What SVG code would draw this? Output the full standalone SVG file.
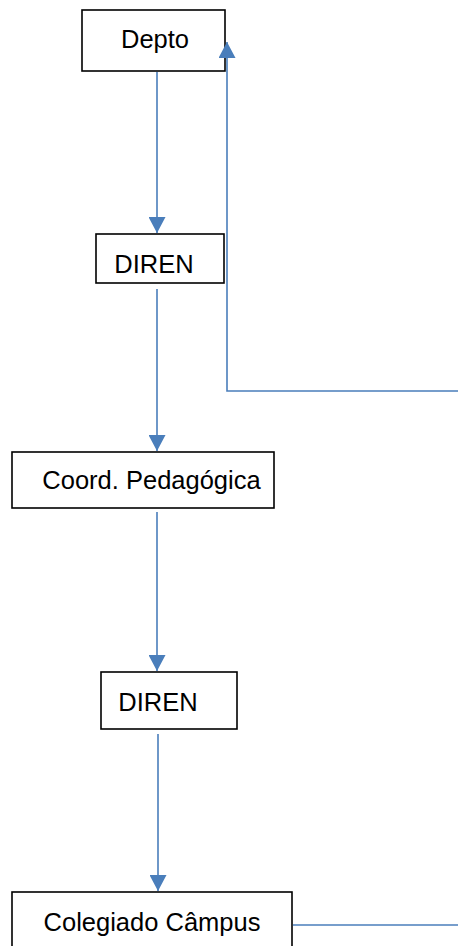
<svg xmlns="http://www.w3.org/2000/svg" width="458" height="946" viewBox="0 0 458 946">
<style>
.box{fill:#fff;stroke:#000;stroke-width:1.6}
.lbl{font-family:"Liberation Sans",Arial,sans-serif;font-size:25.5px;fill:#000;text-anchor:middle}
.con{fill:none;stroke:#4a7ebb;stroke-width:1.6}
</style>
<defs>
<marker id="ah" markerUnits="userSpaceOnUse" markerWidth="17" markerHeight="17" viewBox="0 0 17 17" refX="16" refY="8.5" orient="auto">
<path d="M0,0 L16,8.5 L0,17 Z" fill="#4a7ebb"/>
</marker>
</defs>
<rect width="458" height="946" fill="#fff"/>
<g id="n-depto">
<rect class="box" x="82" y="10" width="143" height="61"/>
<text class="lbl" x="155" y="48">Depto</text>
</g>
<g id="n-diren1">
<rect class="box" x="96" y="234" width="128" height="49"/>
<text class="lbl" x="154" y="273">DIREN</text>
</g>
<g id="n-coord">
<rect class="box" x="12" y="452" width="262" height="56"/>
<text class="lbl" x="151.5" y="489">Coord. Pedagógica</text>
</g>
<g id="n-diren2">
<rect class="box" x="101" y="672" width="136" height="57"/>
<text class="lbl" x="158" y="711">DIREN</text>
</g>
<g id="n-colegiado">
<rect class="box" x="12" y="892" width="280" height="70"/>
<text class="lbl" x="152" y="931">Colegiado Câmpus</text>
</g>
<g id="connectors">
<line class="con" x1="157" y1="72" x2="157" y2="233" marker-end="url(#ah)"/>
<line class="con" x1="157" y1="289" x2="157" y2="451" marker-end="url(#ah)"/>
<line class="con" x1="157" y1="512" x2="157" y2="671" marker-end="url(#ah)"/>
<line class="con" x1="158" y1="734" x2="158" y2="891" marker-end="url(#ah)"/>
<polyline class="con" points="458,391 227,391 227,42" marker-end="url(#ah)"/>
<line class="con" x1="293" y1="925" x2="458" y2="925"/>
</g>
</svg>
